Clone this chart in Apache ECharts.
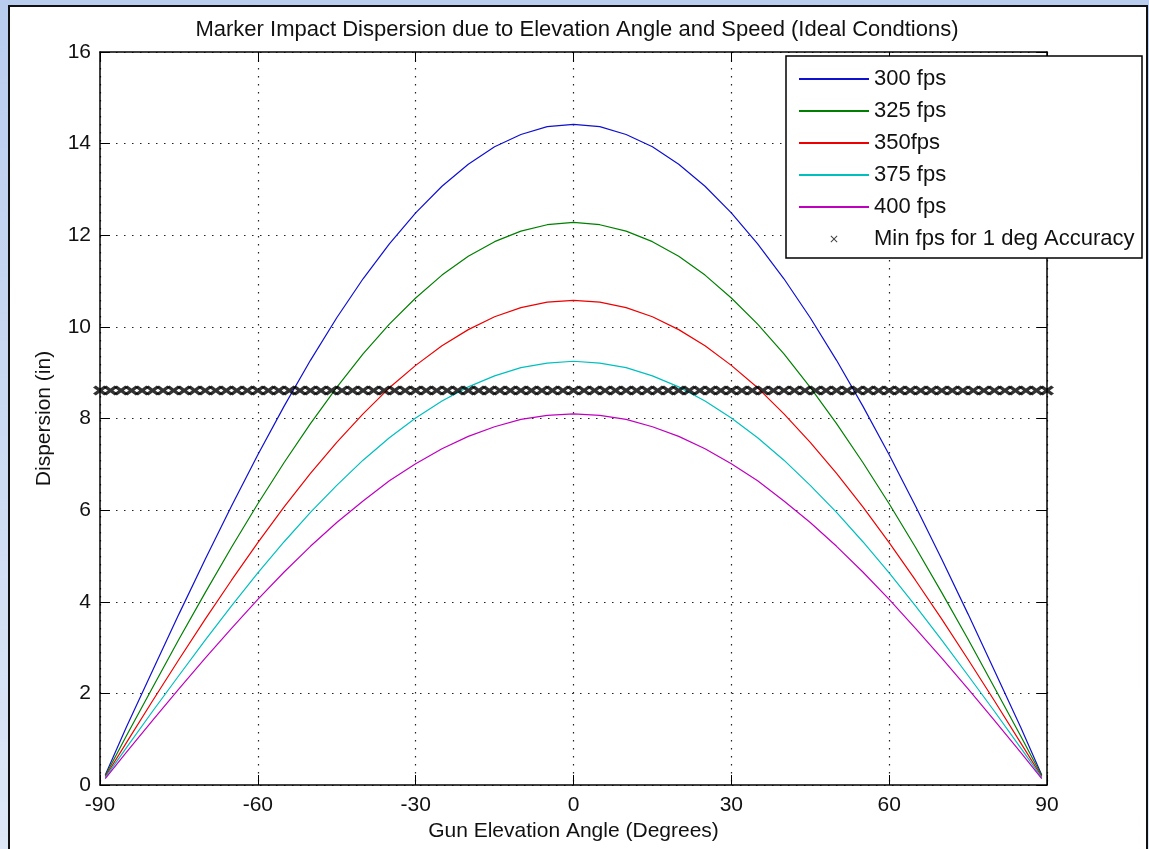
<!DOCTYPE html>
<html>
<head>
<meta charset="utf-8">
<script src="https://cdn.jsdelivr.net/npm/echarts@6/dist/echarts.min.js"></script>
<style>
    html, body { margin: 0; padding: 0; }
    body { width: 1149px; height: 849px; overflow: hidden; position: relative;
        background: linear-gradient(#b9cdef, #dde7f6); }
    #figure { position: absolute; left: 8px; top: 5px; width: 1136px; height: 900px;
        border: 2px solid #111; background: #fff; }
    #main { position: absolute; left: 0; top: 0; width: 1149px; height: 849px; }
</style>
</head>
<body>
<div id="figure"></div>
<div id="main"></div>
<script>
// elevation angles (deg) where curves were read
var angles = [-89, -85, -80, -75, -70, -65, -60, -55, -50, -45, -40, -35, -30, -25, -20, -15, -10, -5, 0,
    5, 10, 15, 20, 25, 30, 35, 40, 45, 50, 55, 60, 65, 70, 75, 80, 85, 89];

var fps300 = [0.22, 1.26, 2.50, 3.73, 4.93, 6.09, 7.21, 8.27, 9.27, 10.20, 11.05, 11.81, 12.49, 13.07, 13.55, 13.93, 14.20, 14.37, 14.42,
    14.37, 14.20, 13.93, 13.55, 13.07, 12.49, 11.81, 11.05, 10.20, 9.27, 8.27, 7.21, 6.09, 4.93, 3.73, 2.50, 1.26, 0.22];
var fps325 = [0.20, 1.07, 2.13, 3.18, 4.20, 5.19, 6.14, 7.04, 7.89, 8.68, 9.41, 10.06, 10.63, 11.13, 11.54, 11.86, 12.09, 12.23, 12.28,
    12.23, 12.09, 11.86, 11.54, 11.13, 10.63, 10.06, 9.41, 8.68, 7.89, 7.04, 6.14, 5.19, 4.20, 3.18, 2.13, 1.07, 0.20];
var fps350 = [0.18, 0.92, 1.84, 2.74, 3.62, 4.47, 5.29, 6.07, 6.80, 7.48, 8.10, 8.67, 9.16, 9.59, 9.94, 10.22, 10.42, 10.54, 10.58,
    10.54, 10.42, 10.22, 9.94, 9.59, 9.16, 8.67, 8.10, 7.48, 6.80, 6.07, 5.29, 4.47, 3.62, 2.74, 1.84, 0.92, 0.18];
var fps375 = [0.16, 0.81, 1.61, 2.39, 3.16, 3.91, 4.63, 5.31, 5.95, 6.54, 7.09, 7.58, 8.01, 8.38, 8.69, 8.93, 9.11, 9.21, 9.25,
    9.21, 9.11, 8.93, 8.69, 8.38, 8.01, 7.58, 7.09, 6.54, 5.95, 5.31, 4.63, 3.91, 3.16, 2.39, 1.61, 0.81, 0.16];
var fps400 = [0.14, 0.71, 1.41, 2.10, 2.77, 3.42, 4.05, 4.65, 5.21, 5.73, 6.20, 6.64, 7.01, 7.34, 7.61, 7.82, 7.98, 8.07, 8.10,
    8.07, 7.98, 7.82, 7.61, 7.34, 7.01, 6.64, 6.20, 5.73, 5.21, 4.65, 4.05, 3.42, 2.77, 2.10, 1.41, 0.71, 0.14];

// min-fps marker band
var markerAngles = [-90, -88, -86, -84, -82, -80, -78, -76, -74, -72, -70, -68, -66, -64, -62, -60, -58, -56, -54, -52,
    -50, -48, -46, -44, -42, -40, -38, -36, -34, -32, -30, -28, -26, -24, -22, -20, -18, -16, -14, -12, -10, -8, -6, -4, -2,
    0, 2, 4, 6, 8, 10, 12, 14, 16, 18, 20, 22, 24, 26, 28, 30, 32, 34, 36, 38, 40, 42, 44, 46, 48, 50, 52, 54, 56, 58,
    60, 62, 64, 66, 68, 70, 72, 74, 76, 78, 80, 82, 84, 86, 88, 90];
var markerLevel = 8.61;

var seriesNames = ['300 fps', '325 fps', '350fps', '375 fps', '400 fps'];
var markerName = 'Min fps for 1 deg Accuracy';
var colors = ['#1010d0', '#008000', '#ee0000', '#00bfbf', '#bf00bf'];

var xTicks = [-90, 90, 30];
var yTicks = [0, 16, 2];

var FONT = 'Liberation Sans, Arial, sans-serif';
var crossPath = 'path://M0,2L2,0L5,3L8,0L10,2L7,5L10,8L8,10L5,7L2,10L0,8L3,5Z';
var smallCross = 'path://M0,1L1,0L5,4L9,0L10,1L6,5L10,9L9,10L5,6L1,10L0,9L4,5Z';

function pairs(xs, ys) {
    var out = [];
    for (var i = 0; i < xs.length; i++) {
        out.push([xs[i], ys[i]]);
    }
    return out;
}

var myChart = echarts.init(document.getElementById('main'));

var curveData = [fps300, fps325, fps350, fps375, fps400];
var series = [];
var legendData = [];
for (var k = 0; k < curveData.length; k++) {
    series.push({
        type: 'line', name: seriesNames[k], data: pairs(angles, curveData[k]),
        symbol: 'none', lineStyle: {color: colors[k], width: 1.2}, itemStyle: {color: colors[k]},
        z: 3
    });
    // hide the dot that echarts puts in the middle of a line legend icon
    legendData.push({name: seriesNames[k], itemStyle: {color: 'rgba(0,0,0,0)', borderWidth: 0}});
}
var markerData = [];
for (var m = 0; m < markerAngles.length; m++) {
    markerData.push([markerAngles[m], markerLevel]);
}
series.push({
    type: 'scatter', name: markerName, data: markerData,
    symbol: crossPath, symbolSize: [14, 10], itemStyle: {color: '#000'}, z: 4
});
legendData.push({name: markerName, icon: smallCross, itemStyle: {color: '#111'}});

var baseX = {
    type: 'value', min: xTicks[0], max: xTicks[1], interval: xTicks[2],
    axisLine: {onZero: false, lineStyle: {color: '#000', width: 1.5}},
    axisTick: {inside: true, length: 10, lineStyle: {color: '#000'}}
};
var baseY = {
    type: 'value', min: yTicks[0], max: yTicks[1], interval: yTicks[2],
    axisLine: {show: true, onZero: false, lineStyle: {color: '#000', width: 1.5}},
    axisTick: {show: true, inside: true, length: 10, lineStyle: {color: '#000'}}
};

option = {
    animation: false,
    textStyle: {fontFamily: FONT},
    title: {
        text: 'Marker Impact Dispersion due to Elevation Angle and Speed (Ideal Condtions)',
        left: 572, top: 14, textAlign: 'center',
        textStyle: {fontSize: 22, fontWeight: 'normal', color: '#111', fontFamily: FONT}
    },
    grid: {left: 100, right: 102, top: 52, bottom: 64, show: false},
    graphic: [{
        type: 'rect', z: 50,
        shape: {x: 786, y: 56, width: 356, height: 202},
        style: {fill: '#fff', stroke: '#000', lineWidth: 1.5}
    }],
    legend: {
        left: 798, top: 68, padding: 0, orient: 'vertical', z: 60,
        itemWidth: 70, itemHeight: 7, itemGap: 10,
        data: legendData,
        textStyle: {fontSize: 22, color: '#111', fontFamily: FONT}
    },
    xAxis: [
        echarts.util.merge({
            position: 'bottom',
            name: 'Gun Elevation Angle (Degrees)', nameLocation: 'middle', nameGap: 28,
            nameTextStyle: {fontSize: 21, color: '#111', fontFamily: FONT},
            axisLabel: {fontSize: 21, color: '#111', margin: 10},
            splitLine: {show: true, lineStyle: {type: [1.5, 6.5], color: '#222', width: 1.2}}
        }, baseX, true),
        echarts.util.merge({
            position: 'top', axisLabel: {show: false}, splitLine: {show: false}
        }, baseX, true)
    ],
    yAxis: [
        echarts.util.merge({
            position: 'left',
            name: 'Dispersion (in)', nameLocation: 'middle', nameGap: 45,
            nameTextStyle: {fontSize: 21, color: '#111', fontFamily: FONT},
            axisLabel: {fontSize: 21, color: '#111', margin: 9},
            splitLine: {show: true, lineStyle: {type: [1.5, 6.5], color: '#222', width: 1.2}}
        }, baseY, true),
        echarts.util.merge({
            position: 'right', axisLabel: {show: false}, splitLine: {show: false}
        }, baseY, true)
    ],
    series: series
};

myChart.setOption(option);
</script>
</body>
</html>
